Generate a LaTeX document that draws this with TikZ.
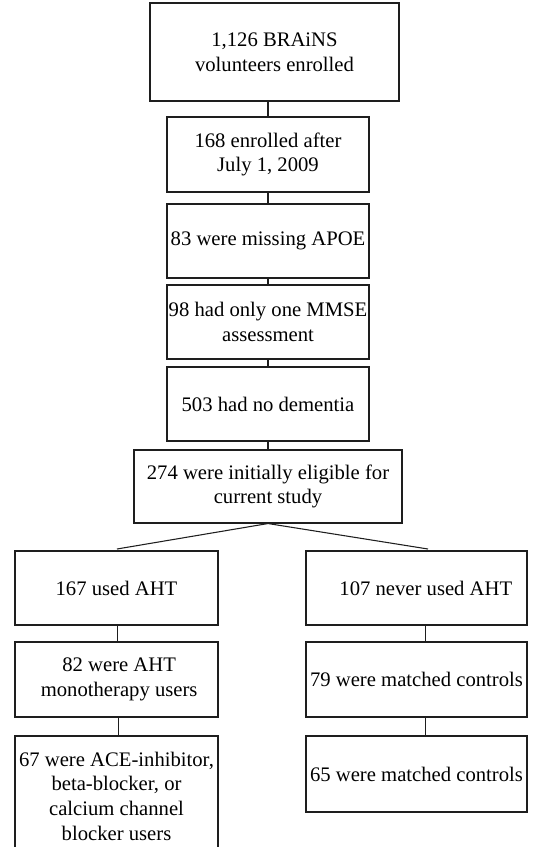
\documentclass[tikz,border=0pt]{standalone}
\usepackage{fontspec}
\setmainfont{Liberation Serif}

\tikzset{every picture/.style={line width=0.8pt}}
\tikzset{box/.style={draw={rgb, 255:red, 30; green, 30; blue, 30 }, rectangle, align=center, inner sep=0pt, font=\fontsize{15.5}{18.5}\selectfont}}
\tikzset{link/.style={draw={rgb, 255:red, 30; green, 30; blue, 30 }}}

\begin{document}
\begin{tikzpicture}[x=0.75pt,y=0.75pt,yscale=-1,xscale=1]
	\useasboundingbox (0,0) rectangle (533,847);

	%Shape: Box [id:enrolled]
	\node [box, minimum width=186.75pt, minimum height=73.5pt] (enrolled) at (274.5,52) {1,126 BRAiNS\\volunteers enrolled};
	%Shape: Box [id:after]
	\node [box, minimum width=151.5pt, minimum height=56.25pt] (after) at (268,154.5) {168 enrolled after\\July 1, 2009};
	%Shape: Box [id:apoe]
	\node [box, minimum width=151.5pt, minimum height=55.5pt] (apoe) at (268,241) {83 were missing APOE};
	%Shape: Box [id:mmse]
	\node [box, minimum width=151.5pt, minimum height=55.5pt] (mmse) at (268,322) {98 had only one MMSE\\assessment};
	%Shape: Box [id:nodem]
	\node [box, minimum width=151.5pt, minimum height=55.5pt] (nodem) at (268,404) {503 had no dementia};
	%Shape: Box [id:elig]
	\node [box, minimum width=201pt, minimum height=54.75pt] (elig) at (268,486.5) {274 were initially eligible for\\current study};

	%Shape: Box [id:aht]
	\node [box, minimum width=152.25pt, minimum height=55.5pt] (aht) at (116.5,588) {167 used AHT};
	%Shape: Box [id:noaht]
	\node [box, minimum width=165.75pt, minimum height=55.5pt] (noaht) at (416.5,588) {\hspace*{14pt}107 never used AHT};
	%Shape: Box [id:mono]
	\node [box, minimum width=152.25pt, minimum height=56.25pt] (mono) at (116.5,679.5) {\hspace*{4pt}82 were AHT\\\hspace*{4pt}monotherapy users};
	%Shape: Box [id:ctrla]
	\node [box, minimum width=165.75pt, minimum height=56.25pt] (ctrla) at (416.5,679.5) {79 were matched controls};
	%Shape: Box [id:ace]
	\node [box, minimum width=152.25pt, minimum height=90pt] (ace) at (116.5,796) {67 were ACE-inhibitor,\\beta-blocker, or\\calcium channel\\blocker users};
	%Shape: Box [id:ctrlb]
	\node [box, minimum width=165.75pt, minimum height=57pt] (ctrlb) at (416.5,774) {65 were matched controls};

	%Straight Lines
	\draw [link] (after.north |- enrolled.south) -- (after.north) ;
	\draw [link] (after) -- (apoe) ;
	\draw [link] (apoe) -- (mmse) ;
	\draw [link] (mmse) -- (nodem) ;
	\draw [link] (nodem) -- (elig) ;
	%Branch Lines
	\coordinate (splitl) at (117,549) ;
	\coordinate (splitr) at (428,549) ;
	\draw [link] (splitl) -- (elig.south) -- (splitr) ;
	%Straight Lines
	\draw [link] ([xshift=0.4pt]aht.south) -- ([xshift=0.4pt]mono.north) ;
	\draw [link] ([xshift=1.5pt]mono.south) -- ([xshift=1.5pt]ace.north) ;
	\draw [link] ([xshift=6.4pt]noaht.south) -- ([xshift=6.4pt]ctrla.north) ;
	\draw [link] ([xshift=6.4pt]ctrla.south) -- ([xshift=6.4pt]ctrlb.north) ;

\end{tikzpicture}
\end{document}
